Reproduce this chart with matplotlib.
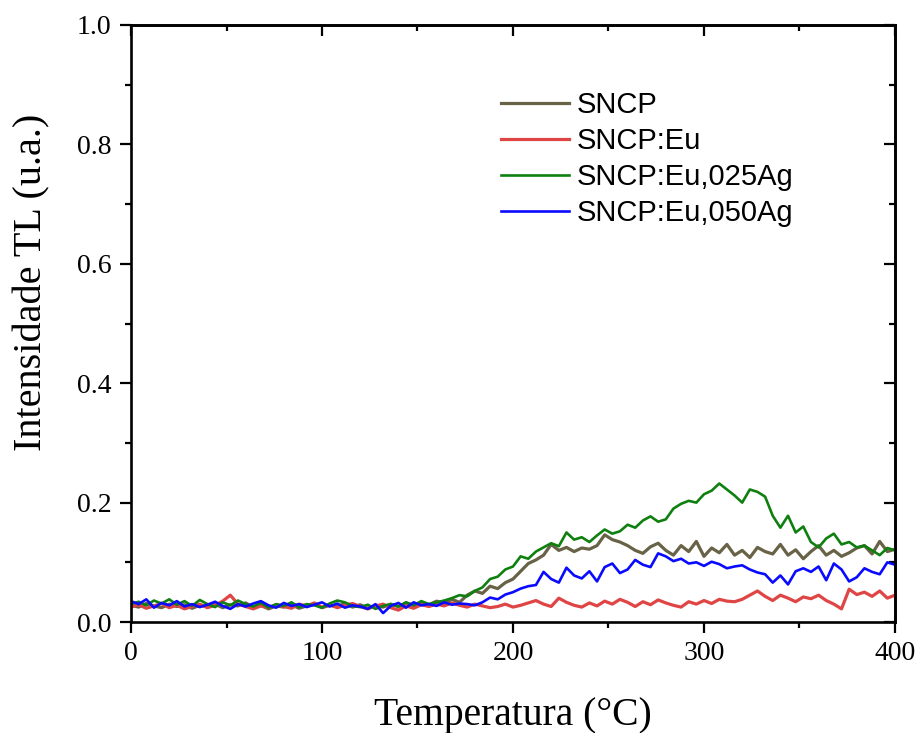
import numpy as np
import matplotlib
matplotlib.use("Agg")
import matplotlib.pyplot as plt
from matplotlib.ticker import MultipleLocator

# temperatura (°C), amostrada a cada 4 graus
temp = np.arange(0, 401, 4)

sncp = [0.028, 0.025, 0.031, 0.027, 0.024, 0.030, 0.026, 0.029, 0.023, 0.028,
        0.026, 0.030, 0.024, 0.029, 0.027, 0.032, 0.025, 0.028, 0.022, 0.027,
        0.025, 0.029, 0.023, 0.027, 0.030, 0.024, 0.028, 0.026, 0.031, 0.025,
        0.029, 0.023, 0.027, 0.025, 0.030, 0.026, 0.032, 0.028, 0.033, 0.029,
        0.035, 0.031, 0.038, 0.033, 0.045, 0.052, 0.048, 0.060, 0.056, 0.066,
        0.072, 0.085, 0.098, 0.104, 0.112, 0.130, 0.120, 0.125, 0.118, 0.124,
        0.122, 0.128, 0.146, 0.138, 0.134, 0.128, 0.120, 0.115, 0.126, 0.132,
        0.120, 0.112, 0.128, 0.118, 0.135, 0.110, 0.124, 0.116, 0.130, 0.112,
        0.120, 0.108, 0.125, 0.118, 0.114, 0.130, 0.112, 0.121, 0.106, 0.118,
        0.128, 0.112, 0.120, 0.110, 0.116, 0.124, 0.128, 0.114, 0.135, 0.118,
        0.122]

sncp_eu = [0.025, 0.029, 0.023, 0.027, 0.031, 0.024, 0.028, 0.022, 0.026, 0.030,
           0.024, 0.028, 0.035, 0.045, 0.030, 0.026, 0.022, 0.027, 0.024, 0.029,
           0.026, 0.023, 0.030, 0.027, 0.032, 0.025, 0.029, 0.024, 0.028, 0.031,
           0.026, 0.022, 0.027, 0.030, 0.024, 0.020, 0.027, 0.023, 0.029, 0.026,
           0.030, 0.027, 0.032, 0.028, 0.025, 0.030, 0.027, 0.024, 0.026, 0.030,
           0.025, 0.028, 0.032, 0.036, 0.030, 0.026, 0.040, 0.033, 0.028, 0.025,
           0.032, 0.027, 0.035, 0.030, 0.038, 0.033, 0.026, 0.034, 0.029, 0.037,
           0.032, 0.028, 0.025, 0.034, 0.030, 0.036, 0.031, 0.038, 0.035, 0.034,
           0.038, 0.045, 0.052, 0.043, 0.036, 0.045, 0.040, 0.034, 0.042, 0.039,
           0.045, 0.036, 0.030, 0.022, 0.055, 0.046, 0.050, 0.043, 0.052, 0.040,
           0.045]

sncp_eu_025ag = [0.030, 0.034, 0.028, 0.036, 0.031, 0.038, 0.029, 0.035, 0.027, 0.037,
                 0.030, 0.025, 0.033, 0.028, 0.036, 0.030, 0.026, 0.032, 0.024, 0.030,
                 0.027, 0.033, 0.025, 0.030, 0.028, 0.024, 0.031, 0.036, 0.033, 0.027,
                 0.025, 0.029, 0.022, 0.027, 0.030, 0.026, 0.033, 0.028, 0.035, 0.030,
                 0.033, 0.036, 0.040, 0.045, 0.043, 0.052, 0.058, 0.072, 0.076, 0.088,
                 0.093, 0.110, 0.106, 0.118, 0.125, 0.132, 0.127, 0.150, 0.138, 0.142,
                 0.134, 0.145, 0.155, 0.148, 0.152, 0.163, 0.158, 0.170, 0.177, 0.168,
                 0.172, 0.190, 0.198, 0.203, 0.200, 0.214, 0.220, 0.232, 0.222, 0.212,
                 0.200, 0.222, 0.218, 0.210, 0.178, 0.158, 0.178, 0.150, 0.160, 0.134,
                 0.125, 0.140, 0.148, 0.130, 0.134, 0.125, 0.128, 0.120, 0.112, 0.124,
                 0.120]

sncp_eu_050ag = [0.035, 0.030, 0.038, 0.024, 0.032, 0.028, 0.035, 0.026, 0.030, 0.025,
                 0.029, 0.034, 0.027, 0.022, 0.030, 0.026, 0.031, 0.035, 0.028, 0.024,
                 0.032, 0.027, 0.030, 0.025, 0.029, 0.033, 0.026, 0.031, 0.024, 0.028,
                 0.026, 0.022, 0.030, 0.015, 0.027, 0.032, 0.024, 0.033, 0.028, 0.030,
                 0.027, 0.033, 0.029, 0.031, 0.030, 0.028, 0.033, 0.041, 0.038, 0.046,
                 0.050, 0.056, 0.060, 0.062, 0.084, 0.072, 0.066, 0.091, 0.078, 0.073,
                 0.085, 0.068, 0.092, 0.098, 0.082, 0.088, 0.104, 0.096, 0.092, 0.115,
                 0.110, 0.102, 0.106, 0.098, 0.100, 0.094, 0.101, 0.097, 0.090, 0.093,
                 0.095, 0.088, 0.083, 0.080, 0.066, 0.078, 0.063, 0.085, 0.090, 0.084,
                 0.093, 0.070, 0.098, 0.088, 0.068, 0.075, 0.090, 0.084, 0.080, 0.100,
                 0.096]

labels = ["SNCP", "SNCP:Eu", "SNCP:Eu,025Ag", "SNCP:Eu,050Ag"]
series = [sncp, sncp_eu, sncp_eu_025ag, sncp_eu_050ag]
cores = ["#686247", "#e04545", "#0f800f", "#0a0aff"]
larguras = [2.3, 2.3, 1.9, 1.9]

fig = plt.figure(figsize=(9.2, 7.33), dpi=100)
ax = fig.add_axes([0.1424, 0.1514, 0.8304, 0.8145])

for y, lab, c, lw in zip(series, labels, cores, larguras):
    ax.plot(temp, y, color=c, lw=lw, label=lab)

ax.set_xlim(0, 400)
ax.set_ylim(0, 1.0)
ax.xaxis.set_major_locator(MultipleLocator(100))
ax.xaxis.set_minor_locator(MultipleLocator(50))
ax.yaxis.set_major_locator(MultipleLocator(0.2))
ax.yaxis.set_minor_locator(MultipleLocator(0.1))
ax.yaxis.set_major_formatter(lambda v, p: f"{v:.1f}")

serif = "Liberation Serif"
ax.tick_params(which="major", direction="out", length=8, width=1.6,
               labelsize=20, pad=6)
ax.tick_params(which="minor", direction="out", length=4, width=1.6)
for lab in ax.get_xticklabels() + ax.get_yticklabels():
    lab.set_fontfamily(serif)
for s in ax.spines.values():
    s.set_linewidth(1.9)

# ticks para dentro no topo e na direita
top = ax.secondary_xaxis("top")
top.xaxis.set_major_locator(MultipleLocator(100))
top.xaxis.set_minor_locator(MultipleLocator(50))
top.tick_params(which="major", direction="in", length=8, width=1.6, labeltop=False)
top.tick_params(which="minor", direction="in", length=4, width=1.6)
top.spines["top"].set_linewidth(1.9)
right = ax.secondary_yaxis("right")
right.yaxis.set_major_locator(MultipleLocator(0.2))
right.yaxis.set_minor_locator(MultipleLocator(0.1))
right.tick_params(which="major", direction="in", length=8, width=1.6, labelright=False)
right.tick_params(which="minor", direction="in", length=4, width=1.6)
right.spines["right"].set_linewidth(1.9)

ax.set_xlabel("Temperatura (°C)", fontsize=28.5, family=serif, labelpad=22)
ax.set_ylabel("Intensidade TL (u.a.)", fontsize=29, family=serif)
ax.yaxis.set_label_coords(-0.106, 0.5695)

ax.legend(loc="upper left", bbox_to_anchor=(0.484, 0.889), frameon=False,
          prop={"family": "Liberation Sans", "size": 21},
          handlelength=2.35, handletextpad=0.27, labelspacing=0.27,
          borderpad=0, borderaxespad=0)

fig.savefig("out.png", dpi=100)
